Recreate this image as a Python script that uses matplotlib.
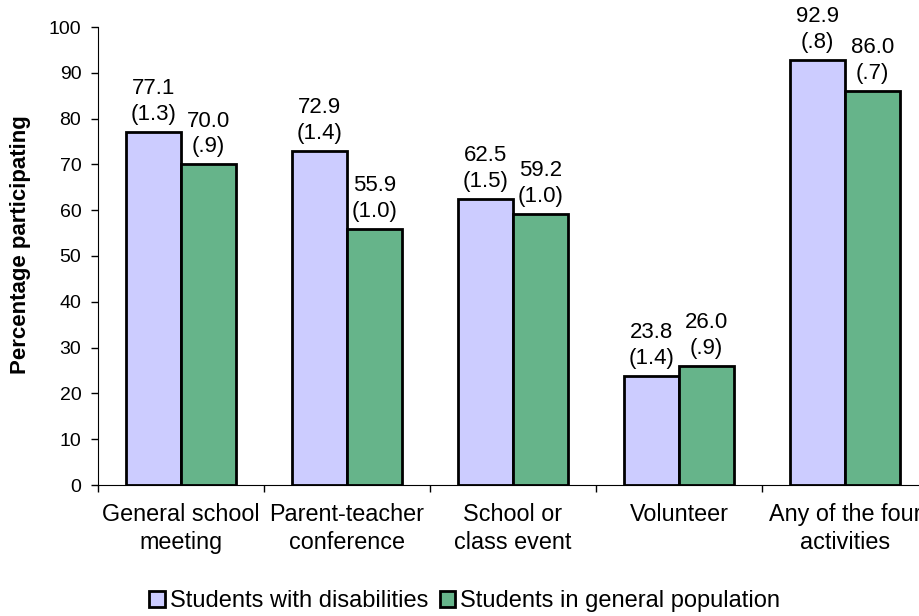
import numpy as np
import matplotlib.pyplot as plt
from matplotlib.patches import Patch

plt.rcParams['font.family'] = ['Liberation Sans', 'DejaVu Sans']

categories = ['General school\nmeeting', 'Parent-teacher\nconference', 'School or\nclass event',
              'Volunteer', 'Any of the four\nactivities']
disab = [77.1, 72.9, 62.5, 23.8, 92.9]
disab_se = ['(1.3)', '(1.4)', '(1.5)', '(1.4)', '(.8)']
general = [70.0, 55.9, 59.2, 26.0, 86.0]
general_se = ['(.9)', '(1.0)', '(1.0)', '(.9)', '(.7)']
series_names = ['Students with disabilities', 'Students in general population']

c_dis = '#CCCCFF'
c_gen = '#66B48A'

fig = plt.figure(figsize=(9.2, 6.16), dpi=100)
ax = fig.add_axes([98/920, 131/616, 830/920, 458/616])

x = np.arange(len(categories))
w = 1/3
b1 = ax.bar(x - w/2, disab, w, color=c_dis, edgecolor='black', linewidth=2)
b2 = ax.bar(x + w/2, general, w, color=c_gen, edgecolor='black', linewidth=2)

for bars, vals, ses in [(b1, disab, disab_se), (b2, general, general_se)]:
    for r, v, s in zip(bars, vals, ses):
        ax.annotate(f'{v:.1f}\n{s}', (r.get_x() + r.get_width()/2, v),
                    xytext=(0, 5), textcoords='offset points',
                    ha='center', va='bottom', fontsize=16, linespacing=1.3)

ax.set_xlim(-0.5, len(categories) - 0.5)
ax.set_ylim(0, 100)
ax.set_yticks(np.arange(0, 101, 10))
ax.tick_params(axis='y', labelsize=14, length=5, width=1, direction='out', pad=7)

# category boundaries get the ticks, labels sit in the middle
ax.set_xticks(np.arange(-0.5, len(categories), 1))
ax.set_xticklabels([])
ax.tick_params(axis='x', which='major', length=5, width=1, direction='out')
ax.set_xticks(x, minor=True)
ax.set_xticklabels(categories, minor=True, fontsize=16.8, linespacing=1.3)
ax.tick_params(axis='x', which='minor', length=0, pad=13)

ax.spines['top'].set_visible(False)
ax.spines['right'].set_visible(False)
ax.set_ylabel('Percentage participating', fontsize=16, fontweight='bold')
ax.yaxis.set_label_coords(-0.081, 0.525)

handles = [Patch(facecolor=c_dis, edgecolor='black', linewidth=2),
           Patch(facecolor=c_gen, edgecolor='black', linewidth=2)]
fig.legend(handles, series_names, loc='center', bbox_to_anchor=(0.505, 15/616),
           ncol=2, frameon=False, fontsize=17, handlelength=0.65, handleheight=0.65,
           handletextpad=0.2, columnspacing=0.5, borderpad=0)

fig.savefig('out.png', dpi=100)
